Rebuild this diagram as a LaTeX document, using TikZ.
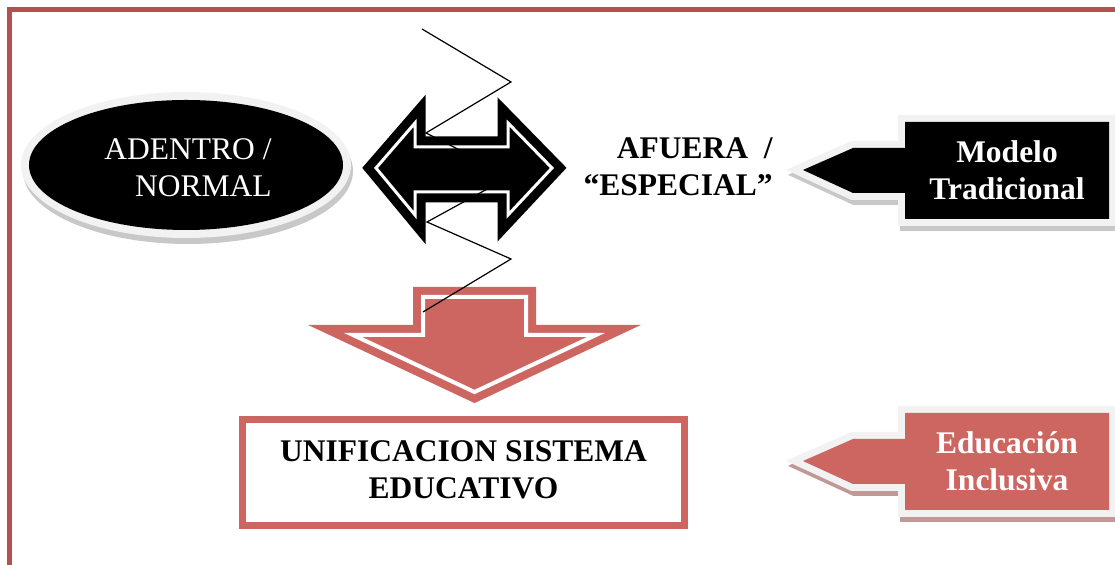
\documentclass[tikz,border=0pt]{standalone}
\usepackage{fontspec}
\setmainfont{Liberation Serif}
\usetikzlibrary{shapes.geometric}
\definecolor{framered}{RGB}{180,80,78}
\definecolor{arrowred}{RGB}{205,102,96}
\definecolor{glowgray}{RGB}{242,242,242}
\definecolor{shadowgray}{RGB}{200,200,200}
\definecolor{shadowred}{RGB}{192,152,150}

\begin{document}
\begin{tikzpicture}[
	x=0.5pt, y=-0.5pt,
	every node/.style={inner sep=0pt, font=\fontsize{15.75}{18.5}\selectfont},
	boldtxt/.style={font=\fontsize{15.75}{18.5}\selectfont\bfseries, align=center},
	bigarrow/.style={line width=4.5pt, double=white, double distance=1.5pt, line join=miter},
	callout/.style={line width=7pt, line join=miter},
]
\useasboundingbox (0,0) rectangle (1115,565);
\clip (0,0) rectangle (1115,565);

% frame
\draw[framered, line width=2.5pt] (9,10) rectangle (1135,585);

% ellipse with glow
\fill[shadowgray] (188,171) ellipse [x radius=165, y radius=73];
\fill[glowgray] (186,165) ellipse [x radius=165, y radius=73];
\node[ellipse, fill=black, minimum width=157pt, minimum height=65pt] (adentro) at (186,165) {};
\node[text=white, align=right] (adentrotxt) at (188,168) {ADENTRO /\\ NORMAL};

% double arrow
\draw[bigarrow, draw=black, fill=black] (376,168) -- (415,123) -- (415,147) -- (508,147) -- (508,123) -- (552,168)
	-- (508,215) -- (508,192) -- (415,192) -- (415,215) -- cycle;

\node[boldtxt, align=right, anchor=east] (afuera) at (773,167) {AFUERA\ \ /\\“ESPECIAL”};

% down arrow
\draw[bigarrow, line width=4pt, double distance=2pt, draw=arrowred, fill=arrowred] (423,297) -- (526,297) -- (526,335)
	-- (596,335) -- (474.5,392) -- (353,335) -- (423,335) -- cycle;

% result box
\node[draw=arrowred, line width=3.5pt, minimum width=221pt, minimum height=53pt] (unibox) at (463.5,472.5) {};
\node[boldtxt] (unitxt) at (463.5,470) {UNIFICACION SISTEMA\\EDUCATIVO};

% callouts
\foreach \ty/\fc/\sc in {122/black/shadowgray, 413/arrowred/shadowred} {
	\draw[callout, \sc] (907,\ty+5) -- (1111,\ty+5) -- (1111,\ty+102) -- (907,\ty+102) -- (907,\ty+76)
		-- (855,\ty+76) -- (805,\ty+53) -- (855,\ty+31) -- (907,\ty+31) -- cycle;
	\draw[callout, glowgray, fill=\fc] (905,\ty) -- (1109,\ty) -- (1109,\ty+97) -- (905,\ty+97) -- (905,\ty+71)
		-- (853,\ty+71) -- (803,\ty+48) -- (853,\ty+26) -- (905,\ty+26) -- cycle;
	\fill[\fc] (905,\ty) -- (1109,\ty) -- (1109,\ty+97) -- (905,\ty+97) -- (905,\ty+71)
		-- (853,\ty+71) -- (803,\ty+48) -- (853,\ty+26) -- (905,\ty+26) -- cycle;
}
\node[boldtxt, text=white] (modelo) at (1007,170) {Modelo\\Tradicional};
\node[boldtxt, text=white] (inclusiva) at (1007,461) {Educación\\Inclusiva};

% zigzag
\draw[line width=0.6pt] (422,29) -- (511,82) -- (426,133) -- (511,176) -- (427,222) -- (511,259) -- (423,312);
\end{tikzpicture}
\end{document}
